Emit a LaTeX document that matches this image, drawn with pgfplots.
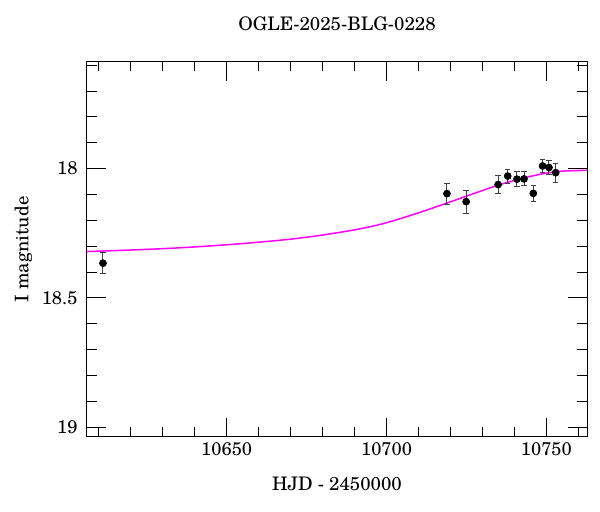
\documentclass[border=0pt]{standalone}
\usepackage{pgfplots}
\pgfplotsset{compat=1.18}
\usepackage{fontspec}
\setmainfont{TeX Gyre Schola}
\definecolor{curvemag}{RGB}{255,0,255}
\begin{document}
\begin{tikzpicture}[x=1pt,y=1pt]
\path (0,0) rectangle (360,307.2);
\begin{axis}[
  at={(52.2pt,45pt)}, anchor=south west,
  width=300pt, height=225pt, scale only axis,
  xmin=10606.3, xmax=10762.7,
  ymin=17.588, ymax=19.038, y dir=reverse,
  scaled x ticks=false,
  xtick={10650,10700,10750},
  minor xtick={10610,10620,10630,10640,10660,10670,10680,10690,10710,10720,10730,10740,10760},
  ytick={18,18.5,19},
  minor ytick={17.6,17.7,17.8,17.9,18.1,18.2,18.3,18.4,18.6,18.7,18.8,18.9,19.0},
  tick align=inside, xtick pos=both, ytick pos=both,
  xticklabel pos=left, yticklabel pos=left,
  major tick length=11.4pt, minor tick length=5.7pt,
  every tick/.style={black, line width=0.5pt},
  axis line style={line width=0.6pt},
  /pgf/number format/.cd, set thousands separator={}, assume math mode=true,
  /pgfplots/.cd,
  ticklabel style={font=\fontsize{11}{13}\selectfont},
  yticklabel style={xshift=-2.2pt},
  title={OGLE-2025-BLG-0228},
  title style={at={(axis description cs:0.5,1)}, anchor=center, yshift=17pt, font=\fontsize{11.2}{13}\selectfont},
  xlabel={HJD - 2450000},
  xlabel style={at={(axis description cs:0.5,0)}, anchor=center, yshift=-28pt, font=\fontsize{11.2}{13}\selectfont},
  ylabel={I magnitude},
  ylabel style={at={(axis description cs:0,0.5)}, anchor=center, yshift=38.2pt, font=\fontsize{11.2}{13}\selectfont},
]
\addplot[curvemag, line width=0.9pt, smooth] coordinates {
(10606.3,18.321) (10620,18.315) (10633,18.308) (10645,18.299) (10657,18.288)
(10670,18.273) (10680,18.257) (10690,18.237) (10698,18.216) (10705,18.191)
(10711,18.167) (10719,18.133) (10727,18.098) (10735,18.064) (10742,18.039)
(10749,18.020) (10755,18.010) (10762.7,18.007)
};
\addplot[only marks, mark=*, mark size=2.1pt, black,
  error bars/.cd, y dir=both, y explicit,
  error bar style={black!75, line width=0.6pt},
  error mark options={rotate=90, mark size=1.6pt, black!75, line width=0.6pt}]
  table[x=t, y=m, y error=e] {
t m e
10611.3 18.366 0.040
10718.9 18.097 0.041
10724.9 18.128 0.044
10734.9 18.062 0.034
10737.9 18.029 0.027
10740.8 18.041 0.028
10743.0 18.040 0.027
10745.9 18.096 0.030
10748.8 17.990 0.025
10750.8 17.996 0.026
10752.9 18.016 0.037
};
\end{axis}
\end{tikzpicture}
\end{document}
